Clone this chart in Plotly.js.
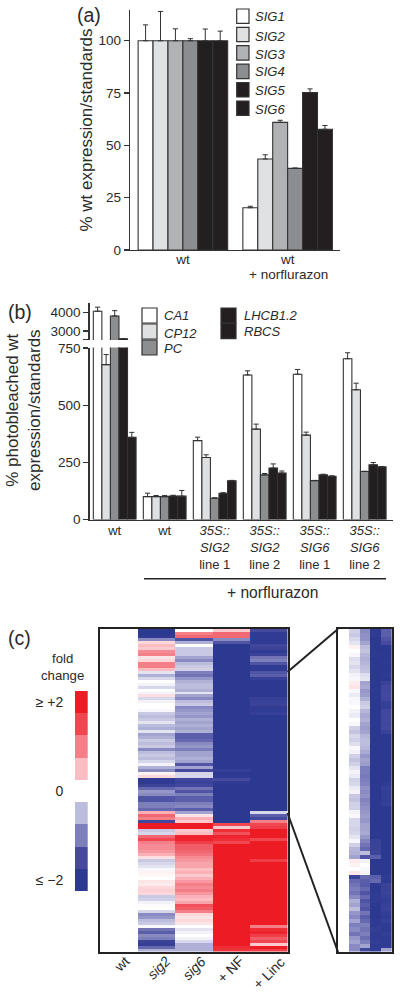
<!DOCTYPE html>
<html><head><meta charset="utf-8">
<script src="https://cdn.plot.ly/plotly-3.0.1.min.js"></script>
<style>html,body{margin:0;padding:0;background:#fff}</style></head>
<body><div id="chart" style="width:400px;height:993px"></div>
<script>
// ---------- Panel (a) ----------
const groupsA = ["wt", "wt"];
const sigNames = ["SIG1","SIG2","SIG3","SIG4","SIG5","SIG6"];
const sig1 = [100, 20.2];   const sig1Err = [7.6, 0.7];
const sig2 = [100, 43.5];   const sig2Err = [14, 2];
const sig3 = [100, 61];     const sig3Err = [5.7, 1];
const sig4 = [100, 39];     const sig4Err = [1, 0.2];
const sig5 = [100, 75.3];   const sig5Err = [5.6, 1.7];
const sig6 = [100, 57.7];   const sig6Err = [4.6, 1.8];
const sigColors = ["#ffffff","#e0e1e2","#b1b2b5","#8c8d91","#231f20","#231f20"];

// ---------- Panel (b) ----------
const groupsB = ["wt","wt","<i>35S::</i><br><i>SIG2</i><br>line 1","<i>35S::</i><br><i>SIG2</i><br>line 2","<i>35S::</i><br><i>SIG6</i><br>line 1","<i>35S::</i><br><i>SIG6</i><br>line 2"];
const geneNames = ["CA1","CP12","PC","LHCB1.2","RBCS"];
const ca1   = [4080, 100, 345, 632, 635, 703];   const ca1Err   = [220, 15, 15, 18, 21, 26];
const cp12  = [677, 100, 271, 395, 369, 567];    const cp12Err  = [44, 5, 12, 22, 13, 29];
const pc    = [3820, 100, 93, 195, 170, 210];    const pcErr    = [290, 5, 2, 6, 1, 1];
const lhcb  = [2580, 103, 115, 225, 195, 239];   const lhcbErr  = [0, 3, 2, 18, 3, 10];
const rbcs  = [359, 102, 169, 203, 189, 230];    const rbcsErr  = [22, 25, 2, 9, 2, 2];
const geneColors = ["#ffffff","#dfe0e1","#8d8e90","#231f20","#231f20"];

// ---------- Panel (c) ----------
const heatCols = ["wt","<i>sig2</i>","<i>sig6</i>","+ NF","+ Linc"];
const mainSig2 = [-2,-2,-1.9,-0.9,0.3,0.5,0.4,0.9,1,0.2,0.3,1,1,0.5,-0.2,-0.6,-0.3,0,-0.1,-0.3,0,-0.1,0.25,-0.3,-0.1,0,0,-0.05,-0.4,-0.5,-0.4,-0.2,-0.5,-0.6,-0.2,-0.7,-0.6,-0.4,-0.5,-0.4,-0.9,-0.5,-0.4,-0.5,-0.3,-0.1,-0.6,-0.9,0.1,0.3,-1.9,-1.9,-1.7,-1.2,-0.8,-0.9,-1.4,-1.4,-1,-1,-1.2,0.6,1.2,1,-1.6,2,2,-0.4,-0.3,1.2,1.5,1,0.9,0.9,0.8,0.6,0.25,-0.4,-0.3,-0.2,-0.05,0.1,0.05,0,0.2,0.15,0.3,0.35,0.3,-0.4,-0.35,-0.1,0.02,0,-0.3,-0.9,-0.8,-0.5,-0.4,-0.05,-1.1,-1.3,-0.9,-1,-1.7,-1.8,-1.2,-0.6];
const mainSig6 = [0,1,1.2,-1.4,-0.6,0,-0.4,-0.4,-0.4,-0.7,-0.9,-0.5,-0.4,-0.35,-1,-1.1,-0.8,-0.6,-0.5,-0.5,-0.6,-0.2,-0.7,-0.9,-0.5,-0.4,-0.9,-0.8,-0.7,-0.8,-0.6,-0.7,-0.6,-0.7,-0.6,-1.3,-1.3,-1.2,-0.9,-0.8,-1,-0.7,-0.7,-0.6,-0.7,-1.4,-0.7,-1.5,-0.3,-0.3,-1.6,-1.7,-1.6,-1.1,-1.4,-1,-1.3,-1.3,-1,-0.9,-1.3,-0.7,0.2,0.6,0.4,2,2,0.4,0.5,1.9,1.9,1.6,1.3,1.3,1.2,1.1,0.9,0.8,0.7,0.7,0.5,0.6,0.4,0.6,0.8,1,0.9,1,0.8,0.6,0.5,0.7,1.4,1.3,1,0.3,0.2,0.3,0.2,0,-0.2,-0.1,0,-0.1,-0.3,-0.6,-0.6,-0.6];
const mainNF = [0.4,1.2,1.2,-0.9,-1.4,-2,-2,-2,-2,-2,-2,-2,-2,-2,-2,-2,-2,-2,-2,-2,-2,-2,-2,-2,-2,-2,-2,-2,-2,-2,-2,-2,-2,-2,-2,-2,-2,-2,-2,-2,-2,-2,-2,-2,-2,-2,-2,-1.8,-2,-1.9,-1.5,-1.9,-2,-2,-2,-2,-2,-2,-2,-2,-2,-2,-2,-2,-2,1.5,0.4,1.8,1.4,1.9,1.8,1.5,2,2,2,2,2,2,2,2,2,2,2,2,2,2,2,2,2,2,2,2,2,2,2,2,2,2,2,2,2,2,2,2,2,2,1.8,1.7];
const mainLinc = [-1.5,-1.9,-1.9,-1.9,-1.9,-1.6,-1.7,-1.9,-1.7,-1.1,-1,-1.4,-1.9,-1.9,-1.4,-1.3,-1.8,-2,-2,-2,-2,-2,-2,-1.8,-1.75,-1.7,-1.9,-1.9,-1.8,-2,-2,-2,-2,-2,-2,-2,-2,-2,-2,-2,-2,-2,-2,-2,-2,-2,-2,-2,-2,-2,-2,-2,-2,-2,-2,-2,-2,-2,-2,-2,-2,-0.3,-1.3,-1.5,1,1.5,1.6,2,2,2,1.5,2,2,2,2,2,2,1.6,2,2,2,2,2,2,2,2,2,2,2,2,2,2,2,2,2,2,2,2,2,1,1.8,1.9,1.6,1.3,1.5,0.4,2,1.6];
const zoomSig2 = [-0.35,-0.4,-0.3,-0.2,0.1,0,-0.05,-0.25,-0.2,-0.3,-0.2,-0.1,-0.05,0.15,0.2,-0.05,-0.15,-0.05,-0.05,0,-0.1,-0.15,0,-0.05,-0.35,-0.45,-0.3,-0.35,-0.25,-0.05,-0.1,-0.35,-0.45,-0.35,-0.2,-0.1,-0.15,-0.35,-0.3,-0.15,-0.1,-0.4,-0.45,-0.35,-0.35,-0.1,-0.05,-0.3,-0.3,-0.35,-0.3,-0.2,-0.05,-0.35,-0.55,-0.6,-0.7,0.15,0.1,0,0.2,-1.7,-1.2,-1.1,-1,-1.1,-0.9,-0.6,-0.7,-0.5,-0.8,-0.9,-0.7,-1,-0.9,-1.1,-0.8,-0.7,-0.9,-0.9];
const zoomSig6 = [-0.9,-0.85,-0.85,-0.7,-0.5,-0.45,-0.55,-0.6,-0.55,-0.5,-0.45,-0.25,-0.2,-0.7,-0.65,-0.8,-0.75,-0.6,-0.4,-0.35,-0.55,-0.65,-0.6,-0.7,-0.75,-0.7,-0.55,-0.5,-0.5,-0.55,-0.65,-0.8,-0.7,-0.75,-1,-1,-1.05,-1,-0.95,-0.85,-0.9,-0.85,-0.95,-0.9,-0.85,-0.8,-0.75,-0.8,-0.7,-0.7,-0.65,-0.8,-0.95,-1.1,-1.2,-0.5,-1.4,-0.1,0,-0.05,-0.1,-1.2,-1.3,-1.35,-1.2,-1.4,-1.2,-1.4,-1.3,-1.4,-1.1,-1.3,-1.2,-1,-1.1,-1,-1.15,-1,-0.7,-1.6];
const zoomNF = [-1.9,-1.9,-2,-2,-2,-2,-1.95,-2,-2,-2,-2,-2,-2,-2,-2,-1.95,-2,-2,-2,-2,-2,-2,-2,-2,-2,-2,-2,-2,-2,-2,-2,-2,-2,-2,-2,-2,-2,-2,-2,-2,-2,-2,-2,-2,-2,-2,-2,-2,-2,-2,-2,-2,-1.75,-1.7,-1.7,-1.65,-1.3,-2,-2,-2,-2,-1.3,-1.2,-1.9,-2,-1.95,-1.9,-1.9,-2,-2,-2,-2,-1.95,-1.9,-1.85,-1.9,-1.9,-1.85,-1.9,-1.9];
const zoomLinc = [-1.3,-1.3,-1.4,-1.5,-2,-2,-2,-2,-1.95,-2,-2,-1.95,-2,-1.7,-1.6,-1.6,-1.55,-1.6,-1.8,-1.85,-1.6,-1.6,-1.55,-1.6,-1.55,-1.75,-2,-2,-2,-2,-2,-2,-2,-2,-2,-2,-2,-2,-1.9,-1.8,-1.85,-1.85,-1.85,-1.8,-2,-2,-2,-2,-2,-2,-2,-2,-2,-2,-2,-2,-2,-2,-2,-2,-2,-1.9,-1.95,-1.7,-1.75,-1.7,-1.8,-1.85,-1.8,-1.75,-1.85,-1.9,-1.8,-1.9,-1.9,-1.85,-1.9,-1.9,-1.9,-0.7];
const keyValues = [2,1.5,1,0.5,0,-0.5,-1,-1.5,-2];
const keyLabels = ["≥ +2","0","≤ −2"];
const foldScale = [[0,"#2b3990"],[0.125,"#454a9f"],[0.25,"#7d7ebc"],[0.375,"#bcbcdd"],[0.5,"#ffffff"],[0.625,"#fbbcc2"],[0.75,"#f47f88"],[0.875,"#ef4650"],[1,"#ed1c24"]];

// ---------- helpers ----------
const W = 400, H = 993, INK = "#2a2a2a", FONT = "Liberation Sans, Arial, sans-serif";
const fx = p => p / W, fy = p => 1 - p / H;
const domX = (a, b) => [fx(a), fx(b)], domY = (top, bot) => [fy(bot), fy(top)];
const tf = s => ({family: FONT, size: s, color: INK});
const traces = [], shapes = [], annotations = [];

function bars(names, colors, vals, errs, groups, xa, ya) {
  names.forEach((n, i) => traces.push({
    type: "bar", name: n, x: groups.map((g, k) => k), y: vals[i], xaxis: xa, yaxis: ya,
    marker: {color: colors[i], line: {color: "#333", width: 1.1}},
    error_y: {type: "data", symmetric: false, array: errs[i], arrayminus: errs[i].map(() => 0),
              color: "#333", thickness: 1, width: 2.6},
    hoverinfo: "skip", cliponaxis: true
  }));
}
bars(sigNames, sigColors, [sig1,sig2,sig3,sig4,sig5,sig6], [sig1Err,sig2Err,sig3Err,sig4Err,sig5Err,sig6Err], groupsA, "x", "y");
const geneV = [ca1,cp12,pc,lhcb,rbcs], geneE = [ca1Err,cp12Err,pcErr,lhcbErr,rbcsErr];
bars(geneNames, geneColors, geneV, geneE, groupsB, "x2", "y2");
bars(geneNames, geneColors, geneV, geneE, groupsB, "x2", "y3");

function heat(cols, xa, ya) {
  const n = cols[0].length, z = [];
  for (let r = 0; r < n; r++) z.push([0].concat(cols.map(c => c[r])));
  traces.push({type: "heatmap", z, x: [0,1,2,3,4], y: z.map((_, r) => r), xaxis: xa, yaxis: ya,
    colorscale: foldScale, zmin: -2, zmax: 2, showscale: false, hoverinfo: "skip"});
}
heat([mainSig2, mainSig6, mainNF, mainLinc], "x3", "y4");
heat([zoomSig2, zoomSig6, zoomNF, zoomLinc], "x4", "y5");
traces.push({type: "heatmap", z: keyValues.map(v => [v]), x: [0], y: keyValues, xaxis: "x5", yaxis: "y6",
  colorscale: foldScale, zmin: -2, zmax: 2, showscale: false, hoverinfo: "skip"});

function swatches(names, colors, x0, x1, tops, h, tx, tys) {
  names.forEach((n, i) => {
    shapes.push({type: "rect", xref: "paper", yref: "paper", x0: fx(x0), x1: fx(x1), y0: fy(tops[i] + h), y1: fy(tops[i]),
      fillcolor: colors[i], line: {color: "#333", width: 1.2}});
    annotations.push({xref: "paper", yref: "paper", x: fx(tx), y: fy(tys[i]), xanchor: "left", yanchor: "middle",
      showarrow: false, text: "<i>" + n + "</i>", font: tf(13)});
  });
}
swatches(sigNames, sigColors, 236.7, 249, [9,27.3,45.7,64.2,82.6,101], 14.4, 253, [16.7,36.3,54.3,71.7,90,109]);
swatches(geneNames.slice(0,3), geneColors.slice(0,3), 142, 157, [308,324,340], 15, 162, [316,333,348.7]);
swatches(geneNames.slice(3), geneColors.slice(3), 221, 236, [308,323.5], 15.2, 242, [316,332]);

function label(text, x, y, size, extra) {
  annotations.push(Object.assign({xref: "paper", yref: "paper", x: fx(x), y: fy(y), showarrow: false, text, font: tf(size),
    xanchor: "center", yanchor: "middle"}, extra || {}));
}
label("(a)", 89, 15, 19.5);
label("(b)", 19.5, 312, 19.5);
label("(c)", 19, 638, 19.5);
label("% photobleached wt<br>expression/standards", 24, 410, 17, {textangle: -90});
label("+ norflurazon", 288, 274.3, 13.5);
label("+ norflurazon", 272.5, 592, 15.6);
label("fold<br>change", 62, 667, 13.2);
// slanted column names of the heatmap
const slantX = [121.7, 158.5, 194.3, 230.8, 269], slantY = [964, 968, 968, 969, 973];
heatCols.forEach((t, i) => label(t, slantX[i], slantY[i], 14, {textangle: -45}));

function line(x0, y0, x1, y1, w) {
  shapes.push({type: "line", xref: "paper", yref: "paper", x0: fx(x0), y0: fy(y0), x1: fx(x1), y1: fy(y1), line: {color: "#222", width: w}});
}
line(144, 578.7, 386, 578.7, 1.6);
line(287.5, 672, 338, 629, 2);
line(287.5, 813, 338, 952, 2);

const yBase = {showgrid: false, zeroline: false, showline: true, linecolor: "#333", linewidth: 1.3, ticks: "outside", ticklen: 5, tickwidth: 1.2, tickcolor: "#333", tickfont: tf(13.5)};
const frame = {showgrid: false, zeroline: false, showline: true, mirror: true, linecolor: "#222", linewidth: 2};

const layout = {
  width: W, height: H, margin: {l: 0, r: 0, t: 0, b: 0}, paper_bgcolor: "#fff", plot_bgcolor: "rgba(0,0,0,0)",
  showlegend: false, barmode: "group", bargap: 0.145, bargroupgap: 0, font: {family: FONT, color: INK},
  shapes, annotations,
  // panel (a)
  xaxis: {domain: domX(130, 340), anchor: "y", range: [-0.505, 1.5], tickmode: "array", tickvals: [0,1], ticktext: groupsA,
    showgrid: false, zeroline: false, showline: true, linecolor: "#333", linewidth: 1.3, ticks: "", tickfont: tf(13.5), ticklabelstandoff: -4},
  yaxis: Object.assign({}, yBase, {domain: domY(10, 250), anchor: "x", range: [0, 114.7], tickmode: "array", tickvals: [0,25,50,75,100],
    title: {text: "% wt expression/standards", font: tf(17), standoff: 1}}),
  // panel (b)
  xaxis2: {domain: domX(89.5, 392.5), anchor: "y2", range: [-0.504, 5.556], tickmode: "array", tickvals: [0,1,2,3,4,5], ticktext: groupsB,
    showgrid: false, zeroline: false, showline: true, linecolor: "#333", linewidth: 1.3, ticks: "", tickfont: tf(13), ticklabelstandoff: -1},
  yaxis2: Object.assign({}, yBase, {domain: domY(347.5, 519.5), anchor: "x2", range: [0, 752], tickmode: "array", tickvals: [0,250,500,750]}),
  yaxis3: Object.assign({}, yBase, {domain: domY(303.3, 340), anchor: "x2", range: [2508, 4510], tickmode: "array", tickvals: [2515,3000,4000], ticktext: ["","3000","4000"]}),
  // panel (c)
  xaxis3: Object.assign({}, frame, {domain: domX(100, 287.5), anchor: "y4", range: [-0.5,4.5], showticklabels: false, ticks: ""}),
  yaxis4: Object.assign({}, frame, {domain: domY(628.7, 951.7), anchor: "x3", range: [mainSig2.length-0.5, -0.5], showticklabels: false, ticks: ""}),
  xaxis4: Object.assign({}, frame, {domain: domX(338, 391.7), anchor: "y5", range: [-0.5,4.5], showticklabels: false, ticks: ""}),
  yaxis5: Object.assign({}, frame, {domain: domY(628.7, 951.7), anchor: "x4", range: [zoomSig2.length-0.5, -0.5], showticklabels: false, ticks: ""}),
  xaxis5: {domain: domX(75, 87.7), anchor: "y6", range: [-0.5,0.5], visible: false},
  yaxis6: {domain: domY(691, 891), anchor: "x5", range: [-2.25,2.25], tickmode: "array", tickvals: [2,0,-2], ticktext: keyLabels,
    showgrid: false, zeroline: false, showline: false, ticks: "outside", ticklen: 8, tickcolor: "rgba(0,0,0,0)", tickfont: tf(14)}
};
Plotly.newPlot("chart", traces, layout, {displayModeBar: false, staticPlot: true});
</script></body></html>
